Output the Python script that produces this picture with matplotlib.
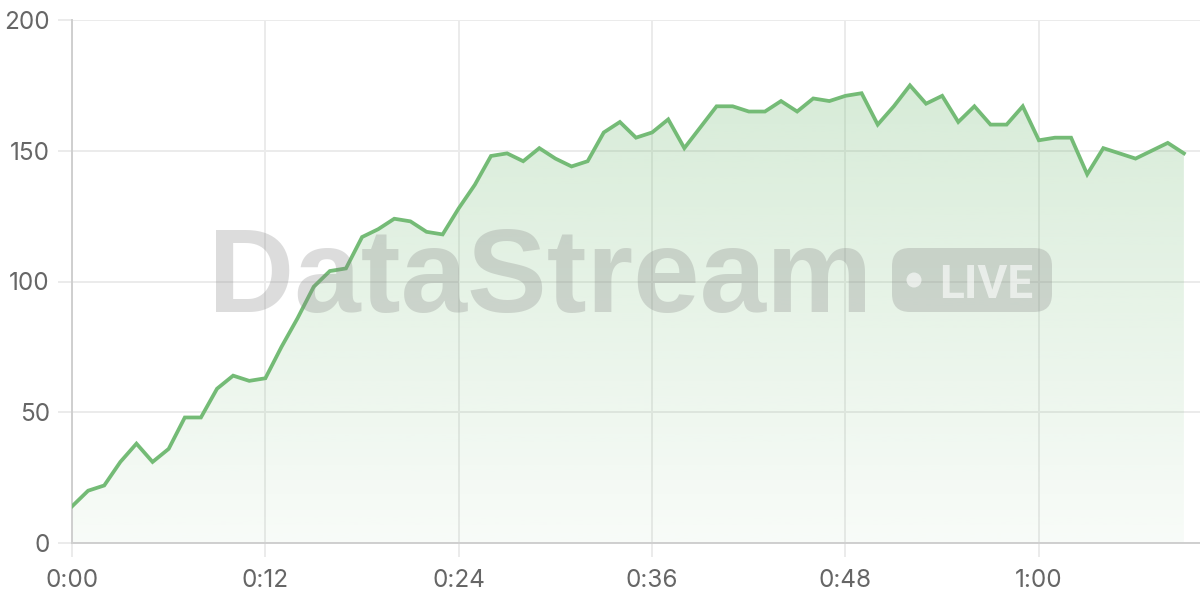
import numpy as np
import matplotlib
matplotlib.use("Agg")
import matplotlib.pyplot as plt
from matplotlib.patches import FancyBboxPatch, Circle
from matplotlib.transforms import IdentityTransform
from matplotlib.ticker import FuncFormatter, MultipleLocator

# seconds since start, one reading per second
seconds = list(range(70))
values = [14, 20, 22, 31, 38, 31, 36, 48, 48, 59,
          64, 62, 63, 75, 86, 98, 104, 105, 117, 120,
          124, 123, 119, 118, 128, 137, 148, 149, 146, 151,
          147, 144, 146, 157, 161, 155, 157, 162, 151, 159,
          167, 167, 165, 165, 169, 165, 170, 169, 171, 172,
          160, 167, 175, 168, 171, 161, 167, 160, 160, 167,
          154, 155, 155, 141, 151, 149, 147, 150, 153, 149]
y_ticks = [0, 50, 100, 150, 200]
x_step = 12

LINE = "#74bb76"
GRID = "#ebebeb"
SPINE = "#cfcfcf"
TXT = "#666666"

plt.rcParams["font.family"] = ["Inter", "DejaVu Sans"]

fig = plt.figure(figsize=(12, 6), dpi=100, facecolor="white")
ax = fig.add_axes([72/1200, 57/600, 1128/1200, 523/600])
ax.set_xlim(0, 70)
ax.set_ylim(0, 200)

x = np.array(seconds); y = np.array(values)

# gradient area under the line
grad = np.linspace(0.05, 0.32, 256).reshape(-1, 1)
rgba = np.zeros((256, 1, 4))
rgba[..., :3] = matplotlib.colors.to_rgb(LINE)
rgba[..., 3] = grad
poly = ax.fill_between(x, y, 0, color="none", lw=0)
img = ax.imshow(rgba, extent=(0, 70, 0, 200), origin="lower", aspect="auto", zorder=1)
path = poly.get_paths()[0]
img.set_clip_path(path, transform=ax.transData)

ax.plot(x, y, color=LINE, lw=2.7, zorder=4, solid_joinstyle="miter")

ax.set_yticks(y_ticks)
ax.xaxis.set_major_locator(MultipleLocator(x_step))
ax.xaxis.set_major_formatter(FuncFormatter(lambda v, p: f"{int(v)//60}:{int(v)%60:02d}"))
ax.grid(True, color=GRID, lw=1.4, zorder=0)
ax.set_axisbelow(True)
for s in ["top", "right"]:
    ax.spines[s].set_visible(False)
for s in ["left", "bottom"]:
    ax.spines[s].set_color(SPINE)
    ax.spines[s].set_linewidth(1.4)
ax.tick_params(axis="both", colors=GRID, width=1.4, length=10, labelcolor=TXT, labelsize=17.5)
ax.tick_params(axis="y", pad=6)
ax.tick_params(axis="x", pad=9)

# watermark
ident = IdentityTransform()
fig.text(540/1200, 288/600, "DataStream", family="Liberation Sans", weight="bold",
         fontsize=86, color="#808080", alpha=0.27, ha="center", va="baseline", zorder=3)
box = FancyBboxPatch((892, 288), 160, 64, boxstyle="round,pad=0,rounding_size=18",
                     transform=ident, facecolor="#808080", alpha=0.27, edgecolor="none", zorder=3)
fig.patches.append(box)
fig.patches.append(Circle((914, 320), 7.5, transform=ident, facecolor="white",
                          alpha=0.6, edgecolor="none", zorder=3))
fig.text(939/1200, 302/600, "LIVE", family="Roboto", weight="bold", fontsize=33,
         color="white", alpha=0.6, ha="left", va="baseline", zorder=3)

fig.savefig("out.png", dpi=100, facecolor="white")
